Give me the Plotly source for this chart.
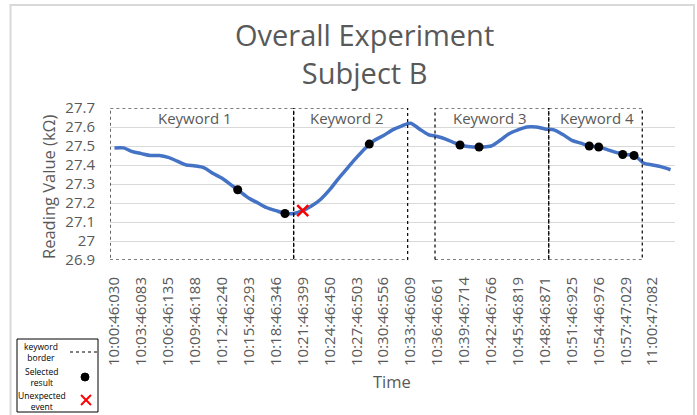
import plotly.graph_objects as go

# ---- data ----
tick_labels = ["10:00:46:030", "10:03:46:083", "10:06:46:135", "10:09:46:188", "10:12:46:240",
               "10:15:46:293", "10:18:46:346", "10:21:46:399", "10:24:46:450", "10:27:46:503",
               "10:30:46:556", "10:33:46:609", "10:36:46:661", "10:39:46:714", "10:42:46:766",
               "10:45:46:819", "10:48:46:871", "10:51:46:925", "10:54:46:976", "10:57:47:029",
               "11:00:47:082"]
readings = [27.49, 27.49, 27.47, 27.46, 27.45, 27.45, 27.44, 27.42, 27.40, 27.395,
            27.385, 27.355, 27.33, 27.295, 27.26, 27.225, 27.20, 27.175, 27.16, 27.145,
            27.145, 27.16, 27.185, 27.22, 27.27, 27.33, 27.385, 27.44, 27.49, 27.53,
            27.555, 27.585, 27.605, 27.62, 27.59, 27.56, 27.55, 27.535, 27.515, 27.50,
            27.495, 27.495, 27.50, 27.53, 27.565, 27.585, 27.60, 27.60, 27.59, 27.585,
            27.56, 27.53, 27.515, 27.50, 27.495, 27.48, 27.465, 27.455, 27.45, 27.41,
            27.40, 27.39, 27.375]
selected_x = [13.74, 19.01, 28.41, 38.53, 40.65, 52.94, 53.99, 56.67, 57.93]
selected_y = [27.27, 27.145, 27.51, 27.505, 27.495, 27.50, 27.495, 27.455, 27.45]
unexpected_x = [20.99]
unexpected_y = [27.16]
keyword_names = ["Keyword 1", "Keyword 2", "Keyword 3", "Keyword 4"]
keyword_start = [-0.5, 19.98, 35.74, 48.42]
keyword_end = [19.98, 32.69, 48.42, 58.85]
keyword_label_x = [8.98, 25.93, 41.87, 53.8]
y_ticks = [26.9, 27.0, 27.1, 27.2, 27.3, 27.4, 27.5, 27.6, 27.7]
y_tick_text = ["26.9", "27", "27.1", "27.2", "27.3", "27.4", "27.5", "27.6", "27.7"]

GREY = "#595959"
FONT = "Open Sans"

idx = list(range(len(readings)))
tick_idx = idx[::3][:len(tick_labels)]

fig = go.Figure()
fig.add_trace(go.Scatter(x=idx, y=readings, mode="lines",
                         line=dict(color="#4472C4", width=3.5, shape="spline", smoothing=0.8),
                         hoverinfo="skip", showlegend=False))
fig.add_trace(go.Scatter(x=selected_x, y=selected_y, mode="markers",
                         marker=dict(color="black", size=9), showlegend=False))
fig.add_trace(go.Scatter(x=unexpected_x, y=unexpected_y, mode="markers",
                         marker=dict(symbol="x-thin", size=11, color="red",
                                     line=dict(width=2.5, color="red")), showlegend=False))

# keyword rectangles
for name, x0, x1, lx in zip(keyword_names, keyword_start, keyword_end, keyword_label_x):
    fig.add_shape(type="rect", xref="x", yref="y", x0=x0, x1=x1, y0=26.9, y1=27.7,
                  line=dict(color="black", width=1.2, dash="dot"), layer="above")
    fig.add_annotation(x=lx, y=27.65, xref="x", yref="y", text=name, showarrow=False,
                       xanchor="center", yanchor="middle",
                       font=dict(family=FONT, size=15, color=GREY))

# pixel -> paper helpers
L, R, T, B, W, H = 110, 22, 108, 155, 697, 415
PW, PH = W - L - R, H - T - B
def px(x): return (x - L) / PW
def py(y): return (H - B - y) / PH

def label(x, y, text, size, color=GREY, angle=0):
    fig.add_annotation(x=px(x), y=py(y), xref="paper", yref="paper", text=text,
                       showarrow=False, xanchor="center", yanchor="middle", textangle=angle,
                       align="center", font=dict(family=FONT, size=size, color=color))

# title and axis titles
label(364, 54, "Overall Experiment<br>Subject B", 29)
label(48, 187, "Reading Value (kΩ)", 16.5, angle=-90)
label(392, 381, "Time", 16.5)

# outer frame
fig.add_shape(type="rect", xref="paper", yref="paper", x0=px(10.5), x1=px(694), y0=py(5), y1=py(430),
              line=dict(color="#d9d9d9", width=2))

# custom legend box
fig.add_shape(type="rect", xref="paper", yref="paper", x0=px(17), x1=px(98), y0=py(339), y1=py(412),
              line=dict(color="black", width=1), fillcolor="white")
label(41, 351.5, "keyword<br>border", 8.5, "black")
label(41, 376.5, "Selected<br>result", 8.5, "black")
label(42, 401, "Unexpected<br>event", 8.5, "black")
fig.add_shape(type="line", xref="paper", yref="paper", x0=px(70), x1=px(97), y0=py(352), y1=py(352),
              line=dict(color="black", width=1, dash="dot"))
fig.add_shape(type="circle", xref="paper", yref="paper", x0=px(81), x1=px(89), y0=py(373), y1=py(381),
              line=dict(color="black", width=1), fillcolor="black")
fig.add_shape(type="line", xref="paper", yref="paper", x0=px(81), x1=px(91), y0=py(395), y1=py(405),
              line=dict(color="red", width=2))
fig.add_shape(type="line", xref="paper", yref="paper", x0=px(81), x1=px(91), y0=py(405), y1=py(395),
              line=dict(color="red", width=2))

fig.update_layout(
    width=W, height=H,
    margin=dict(l=L, r=R, t=T, b=B, autoexpand=False),
    paper_bgcolor="white", plot_bgcolor="white",
    xaxis=dict(range=[-0.5, 62.5], tickmode="array", tickvals=tick_idx, ticktext=tick_labels,
               tickangle=-90, tickfont=dict(family=FONT, size=15, color=GREY),
               showgrid=False, zeroline=False, showline=False, ticks="", ticklabelstandoff=13,
               automargin=False),
    yaxis=dict(range=[26.9, 27.7], tickmode="array", tickvals=y_ticks, ticktext=y_tick_text,
               tickfont=dict(family=FONT, size=15, color=GREY), showgrid=True,
               gridcolor="#d9d9d9", gridwidth=1, zeroline=False, showline=False, ticks="",
               ticklabelstandoff=14, automargin=False),
)

fig.write_html("out.html", config={"displayModeBar": False},
               post_script="document.body.style.margin='0';")
